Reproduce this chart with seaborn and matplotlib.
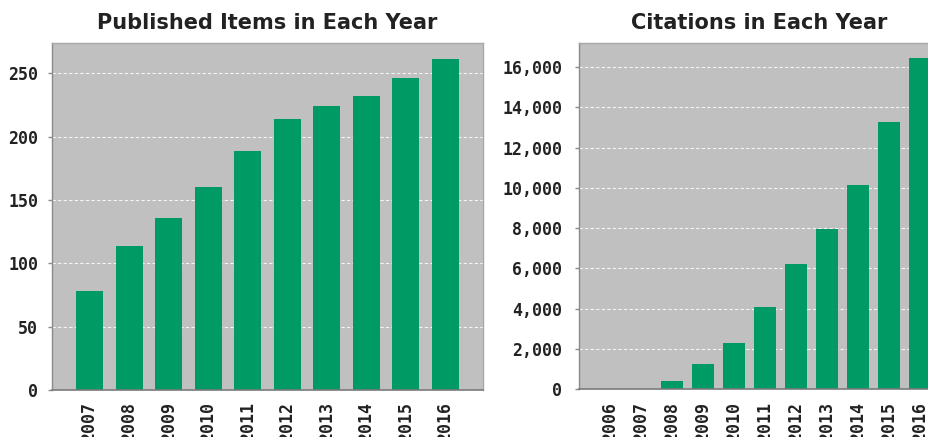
import matplotlib
matplotlib.use("Agg")
import matplotlib.pyplot as plt
import matplotlib.ticker as mticker
import seaborn as sns

# ---- data ----
pub_years = ["2007", "2008", "2009", "2010", "2011", "2012", "2013", "2014", "2015", "2016"]
pub_counts = [78, 114, 136, 160, 189, 214, 224, 232, 246, 261]

cit_years = ["2006", "2007", "2008", "2009", "2010", "2011", "2012", "2013", "2014", "2015", "2016"]
cit_counts = [0, 0, 400, 1220, 2300, 4060, 6200, 7960, 10150, 13250, 16450]

pub_title = "Published Items in Each Year"
cit_title = "Citations in Each Year"

sns.set_theme(style="white")
plt.rcParams["font.family"] = ["DejaVu Sans"]

BAR = "#009B64"
BG = "#C0C0C0"
tick_font = {"family": "DejaVu Sans Mono", "weight": "bold", "size": 12}

fig = plt.figure(figsize=(9.29, 4.37), dpi=100)
ax1 = fig.add_axes([52 / 929, 1 - 390 / 437, (483 - 52) / 929, (390 - 43) / 437])
ax2 = fig.add_axes([579 / 929, 1 - 389 / 437, (951 - 579) / 929, (389 - 43) / 437])


def style(ax, years, ylim, xlim, fmt=None, pad=7):
    ax.set_facecolor(BG)
    ax.set_ylim(*ylim)
    ax.set_xlim(*xlim)
    ax.set_axisbelow(True)
    ax.yaxis.grid(True, color="white", linestyle=(0, (3, 2)), linewidth=0.8, alpha=0.85)
    ax.xaxis.grid(False)
    for s in ["top", "right"]:
        ax.spines[s].set_color("#A8A8A8")
        ax.spines[s].set_linewidth(1.0)
    ax.spines["left"].set_color("#8A8A8A")
    ax.spines["bottom"].set_color("#7A7A7A")
    ax.spines["left"].set_linewidth(1.0)
    ax.spines["bottom"].set_linewidth(1.2)
    ax.tick_params(axis="y", left=True, length=3, width=1, color="#8A8A8A", pad=pad)
    ax.tick_params(axis="x", bottom=False, length=0, pad=9)
    ax.set_xlabel("")
    ax.set_ylabel("")
    if fmt:
        ax.yaxis.set_major_formatter(mticker.StrMethodFormatter(fmt))
    for lab in ax.get_yticklabels():
        lab.set_fontproperties(matplotlib.font_manager.FontProperties(**tick_font))
        lab.set_color("#222222")
    ax.set_xticks(range(len(years)))
    ax.set_xticklabels(years, rotation=90, va="top", ha="center",
                       fontfamily="DejaVu Sans Mono", fontweight="bold", fontsize=12, color="#222222")


sns.barplot(x=pub_years, y=pub_counts, color=BAR, saturation=1, width=0.68,
            linewidth=0, edgecolor=BAR, ax=ax1)
ax1.set_yticks([0, 50, 100, 150, 200, 250])
style(ax1, pub_years, (0, 274), (-0.95, 9.95), pad=7)

sns.barplot(x=cit_years, y=cit_counts, color=BAR, saturation=1, width=0.71,
            linewidth=0, edgecolor=BAR, ax=ax2)
ax2.set_yticks(list(range(0, 16001, 2000)))
style(ax2, cit_years, (0, 17200), (-0.99, 10.99), fmt="{x:,.0f}", pad=9)

fig.text(267 / 929, 1 - 29 / 437, pub_title, ha="center", va="baseline",
         fontfamily="DejaVu Sans", fontweight="bold", fontsize=15, color="#222222")
fig.text(759 / 929, 1 - 29 / 437, cit_title, ha="center", va="baseline",
         fontfamily="DejaVu Sans", fontweight="bold", fontsize=15, color="#222222")

fig.savefig("out.png", dpi=100)
